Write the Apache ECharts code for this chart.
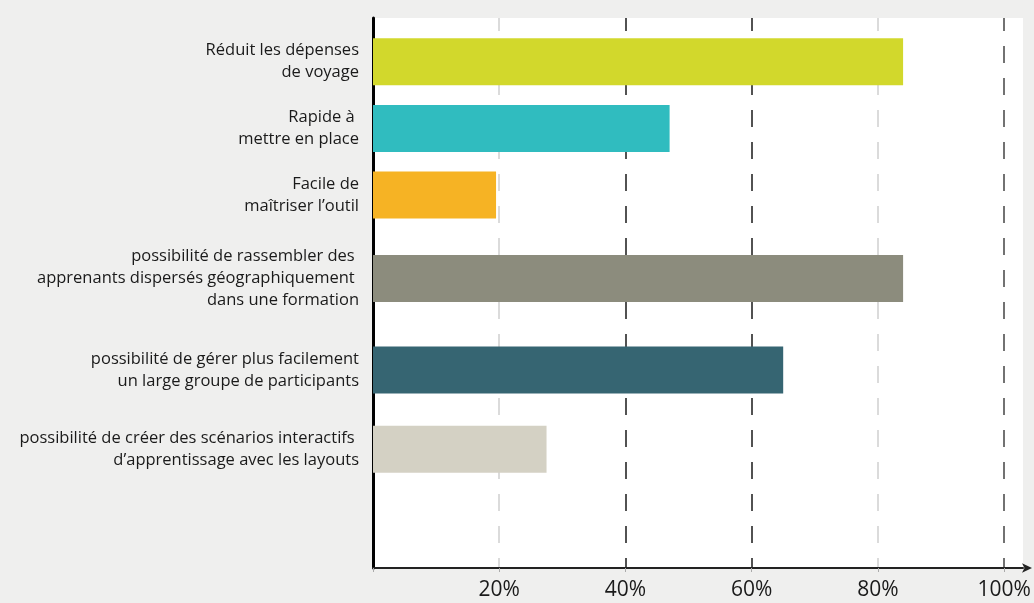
<!DOCTYPE html>
<html>
<head>
<meta charset="utf-8">
<script src="https://cdn.jsdelivr.net/npm/echarts@6/dist/echarts.min.js"></script>
<style>
html,body{margin:0;padding:0;background:#efefee;}
#chart{width:1034px;height:603px;}
</style>
</head>
<body>
<div id="chart"></div>
<script>
const categories=[
  'Réduit les dépenses\nde voyage',
  'Rapide à \nmettre en place',
  'Facile de\nmaîtriser l’outil',
  'possibilité de rassembler des \napprenants dispersés géographiquement \ndans une formation',
  'possibilité de gérer plus facilement\nun large groupe de participants',
  'possibilité de créer des scénarios interactifs \nd’apprentissage avec les layouts'
]
const values=[84,47,19.5,84,65,27.5]
const colors=['#d2d82c','#30bcbf','#f6b324','#8c8c7d','#366572','#d4d1c4']
const xTicks=['0%','20%','40%','60%','80%','100%']

// the bars are not evenly spaced: place them on a fine category grid
const slotCount=132
const slotOf=[10,26,42,62,84,103]
const yData=new Array(slotCount).fill('')
const barData=new Array(slotCount).fill('-')
categories.forEach((c,i)=>{
  yData[slotOf[i]]=c
  barData[slotOf[i]]={value:values[i],itemStyle:{color:colors[i]}}
})

const chart=echarts.init(document.getElementById('chart'))
chart.setOption({
  backgroundColor:'#efefee',
  textStyle:{fontFamily:'"Open Sans", sans-serif'},
  grid:{
    left:373,right:11,top:18,bottom:35,
    show:true,backgroundColor:'#fff',borderWidth:0
  },
  xAxis:{
    type:'value',
    min:0,
    max:103,
    interval:20,
    axisLine:{
      show:true,
      lineStyle:{color:'#222',width:2},
      symbol:['none','arrow'],
      symbolSize:[7,10],
      symbolOffset:[0,9]
    },
    axisTick:{show:true,length:4,lineStyle:{color:'#aaa'}},
    axisLabel:{
      color:'#1a1a1a',
      fontSize:21,
      margin:12,
      showMaxLabel:false,
      formatter:v=>v===0?'':xTicks[v/20]
    },
    splitLine:{
      show:true,
      lineStyle:{
        color:['#fff','#cfcfcf','#1a1a1a','#1a1a1a','#cfcfcf','#444','rgba(0,0,0,0)'],
        width:1.5,
        type:[17,15],
        dashOffset:4
      }
    }
  },
  yAxis:{
    type:'category',
    inverse:true,
    data:yData,
    axisLine:{show:true,lineStyle:{color:'#000',width:3}},
    axisTick:{show:false},
    axisLabel:{
      interval:0,
      color:'#1a1a1a',
      fontSize:16.5,
      lineHeight:22,
      margin:14,
      align:'right'
    }
  },
  series:[{
    type:'bar',
    data:barData,
    barWidth:47,
    silent:true
  }]
})
</script>
</body>
</html>
